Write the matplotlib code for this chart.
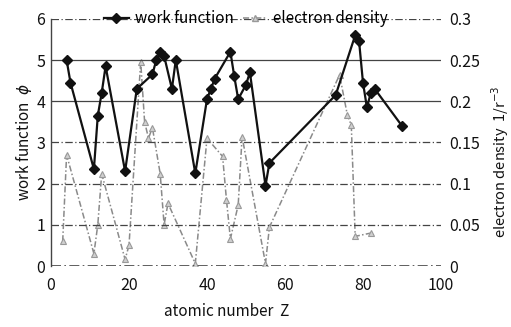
import matplotlib
matplotlib.use("Agg")
import matplotlib.pyplot as plt
from matplotlib.lines import Line2D

plt.rcParams["font.family"] = ["Noto Sans CJK JP", "DejaVu Sans"]

# work function (eV) against atomic number
wf_z = [4, 5, 11, 12, 13, 14, 19, 22, 26, 27, 28, 29, 31, 32, 37, 40, 41, 42,
        46, 47, 48, 50, 51, 55, 56, 73, 78, 79, 80, 81, 82, 83, 90]
wf_phi = [5.0, 4.45, 2.35, 3.65, 4.2, 4.85, 2.3, 4.3, 4.65, 5.0, 5.2, 5.1, 4.3,
          5.0, 2.25, 4.05, 4.3, 4.55, 5.2, 4.6, 4.05, 4.4, 4.7, 1.95, 2.5, 4.15,
          5.6, 5.45, 4.45, 3.85, 4.2, 4.3, 3.4]

# electron density 1/r^-3 against atomic number
ed_z = [3, 4, 11, 12, 13, 19, 20, 23, 24, 25, 26, 28, 29, 30, 37, 40, 44, 45,
        46, 48, 49, 55, 56, 74, 76, 77, 78, 82]
ed_val = [0.03, 0.135, 0.015, 0.05, 0.112, 0.008, 0.025, 0.248, 0.175, 0.155,
          0.168, 0.112, 0.05, 0.076, 0.003, 0.155, 0.133, 0.08, 0.033, 0.074,
          0.157, 0.003, 0.047, 0.232, 0.183, 0.171, 0.036, 0.04]

left_ticks = [0, 1, 2, 3, 4, 5, 6]
right_ticks = [0, 0.05, 0.1, 0.15, 0.2, 0.25, 0.3]
right_labels = ["0", "0.05", "0.1", "0.15", "0.2", "0.25", "0.3"]
x_ticks = [0, 20, 40, 60, 80, 100]

fig = plt.figure(figsize=(5.11, 3.27), dpi=100)
ax = fig.add_axes([0.0998, 0.1865, 0.7632, 0.756])
ax2 = ax.twinx()

# grid lines
for v in left_ticks[1:]:
    style = "-" if v in (4, 5) else (0, (6, 2, 1, 2))
    ax.axhline(v, color="#444444", linewidth=0.9, linestyle=style, zorder=1)
ax.axhline(0, color="#444444", linewidth=1.2, linestyle=(0, (6, 2, 1, 2)), zorder=1)

ax2.plot(ed_z, ed_val, color="#8a8a8a", linewidth=1.1, linestyle=(0, (4, 1.5, 1, 1.5)),
         marker="^", markersize=5, markerfacecolor="#cfcfcf", markeredgecolor="#999999",
         markeredgewidth=0.8)
ax.plot(wf_z, wf_phi, color="#111111", linewidth=1.6, marker="D", markersize=5.5,
        markerfacecolor="#111111", markeredgecolor="#111111", zorder=3)

ax.set_zorder(ax2.get_zorder() + 1)
ax.patch.set_visible(False)

ax.set_xlim(0, 100)
ax.set_ylim(0, 6)
ax2.set_ylim(0, 0.3)
ax.set_xticks(x_ticks)
ax.set_yticks(left_ticks)
ax2.set_yticks(right_ticks)
ax2.set_yticklabels(right_labels)

for a in (ax, ax2):
    for s in ("top", "right", "bottom"):
        a.spines[s].set_visible(False)
ax2.spines["left"].set_visible(False)
ax.spines["left"].set_color("#444444")
ax.spines["left"].set_linewidth(1.0)

ax.tick_params(axis="y", labelsize=11.5, length=0, pad=4, colors="#111111")
ax.tick_params(axis="x", labelsize=11.5, length=0, pad=8, colors="#111111")
ax2.tick_params(axis="y", labelsize=11.5, length=0, pad=6, colors="#111111")

ax.set_xlabel("atomic number  Z", fontsize=11, color="#111111")
ax.xaxis.set_label_coords(0.45, -0.15)
ax.set_ylabel("work function  $\\phi$", fontsize=11, labelpad=2, color="#111111")
ax2.set_ylabel("electron density  1/r$^{-3}$", fontsize=10.5, color="#111111")
ax2.yaxis.set_label_coords(1.125, 0.42)

handles = [
    Line2D([], [], color="#111111", linewidth=1.6, marker="D", markersize=5.5),
    Line2D([], [], color="#8a8a8a", linewidth=1.1, linestyle=(0, (4, 1.5, 1, 1.5)),
           marker="^", markersize=5, markerfacecolor="#cfcfcf", markeredgecolor="#999999"),
]
ax.legend(handles, ["work function", "electron density"], loc="center",
          bbox_to_anchor=(0.5, 1.0), ncol=2, frameon=False, fontsize=11,
          handlelength=1.6, handletextpad=0.4, columnspacing=0.6, borderaxespad=0)

fig.savefig("out.png", dpi=100)
